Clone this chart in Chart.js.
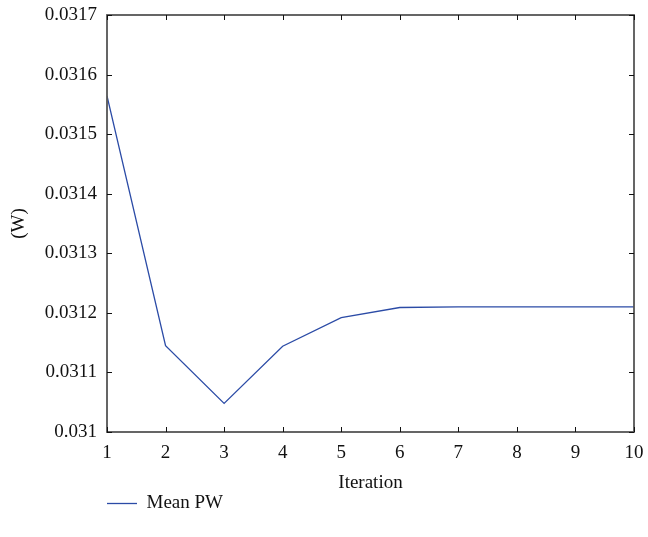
<!DOCTYPE html>
<html>
<head>
<meta charset="utf-8">
<script src="https://cdn.jsdelivr.net/npm/chart.js@4.4.0/dist/chart.umd.min.js"></script>
<style>
  html, body { margin: 0; padding: 0; background: #fff; }
  #wrap { width: 648px; height: 537px; }
</style>
</head>
<body>
<div id="wrap"><canvas id="chart1" width="648" height="537"></canvas></div>
<script>
var iterations = [1, 2, 3, 4, 5, 6, 7, 8, 9, 10];
var mean_pw = [0.031564, 0.031145, 0.031048, 0.031144, 0.031192, 0.031209, 0.03121, 0.03121, 0.03121, 0.03121];
var x_ticks = [1, 2, 3, 4, 5, 6, 7, 8, 9, 10];
var y_ticks = [0.031, 0.0311, 0.0312, 0.0313, 0.0314, 0.0315, 0.0316, 0.0317];

var axisColor = '#555555';
var fontFamily = "'Liberation Serif', 'DejaVu Serif', serif";

// box + inward ticks on all four sides (matlab style)
var boxTicks = {
    id: 'boxTicks',
    afterDatasetsDraw: function (chart) {
        var ctx = chart.ctx;
        var a = chart.chartArea;
        var xs = chart.scales.x;
        var ys = chart.scales.y;
        var len = 5;
        ctx.save();
        ctx.strokeStyle = axisColor;
        ctx.lineWidth = 1.8;
        ctx.strokeRect(a.left, a.top, a.right - a.left, a.bottom - a.top);
        ctx.strokeStyle = '#111';
        ctx.lineWidth = 1;
        ctx.beginPath();
        x_ticks.forEach(function (v) {
            var px = Math.round(xs.getPixelForValue(v)) + 0.5;
            ctx.moveTo(px, a.bottom); ctx.lineTo(px, a.bottom - len);
            ctx.moveTo(px, a.top); ctx.lineTo(px, a.top + len);
        });
        y_ticks.forEach(function (v) {
            var py = Math.round(ys.getPixelForValue(v)) + 0.5;
            ctx.moveTo(a.left, py); ctx.lineTo(a.left + len, py);
            ctx.moveTo(a.right, py); ctx.lineTo(a.right - len, py);
        });
        ctx.stroke();
        ctx.restore();
    }
};

var ctx1 = document.getElementById('chart1').getContext('2d');
new Chart(ctx1, {
    type: 'line',
    data: {
        labels: iterations,
        datasets: [{
            label: 'Mean PW',
            data: iterations.map(function (x, i) { return { x: x, y: mean_pw[i] }; }),
            borderColor: '#2b4ba6',
            backgroundColor: '#2b4ba6',
            borderWidth: 1.3,
            pointRadius: 0,
            tension: 0,
            fill: false
        }]
    },
    options: {
        responsive: false,
        animation: false,
        layout: { padding: { left: 0, right: 14, top: 15, bottom: 14 } },
        plugins: {
            tooltip: { enabled: false },
            legend: {
                position: 'bottom',
                align: 'start',
                fullSize: false,
                labels: {
                    usePointStyle: true,
                    pointStyle: 'line',
                    pointStyleWidth: 30,
                    boxHeight: 12,
                    padding: 0,
                    color: '#111',
                    font: { family: fontFamily, size: 19 }
                }
            }
        },
        scales: {
            x: {
                type: 'linear',
                min: 1,
                max: 10,
                afterBuildTicks: function (s) { s.ticks = x_ticks.map(function (v) { return { value: v }; }); },
                grid: { display: false, drawTicks: false },
                border: { display: false },
                ticks: {
                    padding: 10,
                    color: '#111',
                    font: { family: fontFamily, size: 19 },
                    maxRotation: 0
                },
                title: {
                    display: true,
                    text: 'Iteration',
                    color: '#111',
                    padding: { top: 3, bottom: 0 },
                    font: { family: fontFamily, size: 19 }
                },
                afterFit: function (s) {
                    s.height = 62;
                    s.paddingLeft = 0;
                    s.paddingRight = 0;
                }
            },
            y: {
                type: 'linear',
                min: 0.031,
                max: 0.0317,
                afterBuildTicks: function (s) { s.ticks = y_ticks.map(function (v) { return { value: v }; }); },
                grid: { display: false, drawTicks: false },
                border: { display: false },
                ticks: {
                    padding: 10,
                    color: '#111',
                    font: { family: fontFamily, size: 19 },
                    callback: function (v) { return String(parseFloat(v.toFixed(4))); }
                },
                title: {
                    display: true,
                    text: '(W)',
                    color: '#111',
                    padding: { top: 8, bottom: 0 },
                    font: { family: fontFamily, size: 19 }
                },
                afterFit: function (s) {
                    s.width = 107;
                    s.paddingTop = 0;
                    s.paddingBottom = 0;
                }
            }
        }
    },
    plugins: [boxTicks]
});
</script>
</body>
</html>
